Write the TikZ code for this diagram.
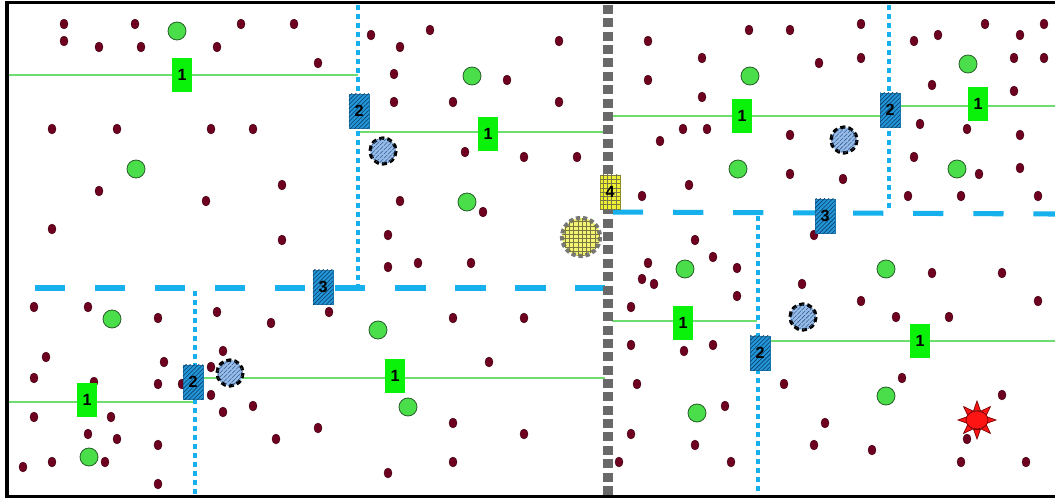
\documentclass[tikz,border=0pt]{standalone}
\usepackage{fontspec}
\setsansfont{Liberation Sans}
\usetikzlibrary{patterns}
\definecolor{dotred}{RGB}{110,0,32}
\definecolor{dotedge}{RGB}{60,0,15}
\definecolor{cellgreen}{RGB}{110,220,110}
\definecolor{boxgreen}{RGB}{10,242,10}
\definecolor{nodegreen}{RGB}{75,222,75}
\definecolor{nodeedge}{RGB}{40,95,40}
\definecolor{linkblue}{RGB}{22,176,236}
\definecolor{boxblue}{RGB}{35,150,215}
\definecolor{hatchblue}{RGB}{10,60,105}
\definecolor{paleblue}{RGB}{150,190,235}
\definecolor{palehatch}{RGB}{60,90,140}
\definecolor{gwyellow}{RGB}{240,240,50}
\definecolor{gwgrid}{RGB}{120,120,70}
\definecolor{gwedge}{RGB}{145,145,40}
\definecolor{railgray}{RGB}{105,105,105}
\definecolor{sunred}{RGB}{255,20,20}
\definecolor{sunedge}{RGB}{120,0,0}

\begin{document}
\begin{tikzpicture}[
    x=0.025cm, y=-0.025cm,
    seed/.style={fill=dotred, draw=dotedge, line width=0.3pt},
    cellline/.style={draw=cellgreen, line width=1pt},
    trunk/.style={draw=linkblue, line width=3.6pt, dash pattern=on 21.5pt off 21.2pt},
    branch/.style={draw=linkblue, line width=2.2pt, dash pattern=on 3.5pt off 2.9pt},
    rail/.style={draw=railgray, line width=7pt, dash pattern=on 6.4pt off 3.1pt},
    headnode/.style={fill=nodegreen, draw=nodeedge, line width=0.6pt},
    relay/.style={fill=paleblue, postaction={pattern=north east lines, pattern color=palehatch},
        draw=black, line width=2.3pt, dash pattern=on 3.6pt off 2.2pt},
    hub/.style={fill=gwyellow!70!white, postaction={pattern=grid, pattern color=gwgrid},
        draw=railgray!90, line width=3pt, dash pattern=on 3pt off 2pt},
    tagbox/.style={minimum width=0.5cm, minimum height=0.85cm, inner sep=0pt,
        font=\sffamily\bfseries\fontsize{11.5}{11.5}\selectfont},
    levelone/.style={tagbox, fill=boxgreen},
    leveltwo/.style={tagbox, fill=boxblue, draw=boxblue!80!black, line width=0.4pt,
        postaction={pattern=north east lines, pattern color=hatchblue}},
    levelfour/.style={tagbox, fill=gwyellow, draw=gwedge, line width=0.6pt,
        postaction={pattern=grid, pattern color=gwgrid}},
    sunray/.style={fill=sunred, draw=sunedge, line width=0.5pt}
]

\useasboundingbox (0,0) rectangle (1055,500);

% cluster borders (green)
\draw[cellline] (8,75) -- (358,75);
\draw[cellline] (360,132) -- (605,132);
\draw[cellline] (612,116) -- (880,116);
\draw[cellline] (900,106) -- (1055,106);
\draw[cellline] (8,402) -- (195,402);
\draw[cellline] (204,378) -- (605,378);
\draw[cellline] (612,321) -- (757,321);
\draw[cellline] (770,341) -- (1055,341);

% region borders (blue)
\draw[trunk] (35,288) -- (605,288);
\draw[trunk] (613,212) -- (1055,214);
\draw[branch] (358,5) -- (358,287);
\draw[branch] (195,291) -- (195,496);
\draw[branch] (889,5) -- (889,211);
\draw[branch] (758,216) -- (758,496);

% central divide
\draw[rail] (608,5) -- (608,496);

% frame
\draw[line width=2.8pt] (1060,2.5) -- (7,2.5) -- (7,496.5) -- (1060,496.5);

% sensor nodes
\foreach \x/\y in {64/24, 64/41, 99/47, 135/24, 141/47, 217/47, 241/24, 294/24, 318/63,
    52/129, 117/129, 211/129, 253/129, 99/191, 206/201, 282/185, 52/229, 282/240,
    371/35, 400/47, 430/30, 559/41, 394/74, 507/80, 394/102, 453/102, 559/102,
    465/152, 524/157, 577/157, 400/201, 483/212, 388/235, 388/267, 418/263, 471/263,
    453/318, 524/318, 489/362, 453/423, 524/434, 453/462, 388/473,
    648/41, 749/30, 790/30, 861/24, 702/58, 861/58, 648/80, 819/63, 702/97,
    683/129, 707/129, 660/141, 790/135, 790/174, 843/179, 689/185, 642/196,
    695/240, 814/235,
    914/41, 938/35, 985/24, 1020/35, 1044/24, 1014/58, 1044/58, 932/85, 1014/91,
    920/124, 967/129, 1020/135, 914/157, 979/174, 1020/168, 908/196, 961/196, 1038/196,
    34/307, 88/307, 158/318, 217/312, 271/323, 329/312, 46/357, 164/362, 223/351,
    34/378, 94/382, 158/384, 182/384, 211/367, 211/395, 223/412, 253/406,
    34/417, 111/417, 88/434, 117/439, 158/445, 276/439, 318/428,
    23/467, 52/462, 105/462, 158/484,
    648/263, 713/257, 737/268, 642/279, 654/284, 737/296, 631/307, 802/284,
    861/301, 932/273, 1002/273, 1038/301, 896/317, 949/317, 631/345, 684/351,
    713/345, 637/384, 784/384, 902/378, 1002/395, 725/406, 631/434, 695/445,
    825/423, 814/445, 872/450, 967/439, 619/462, 731/462, 961/462, 1026/462}
  \draw[seed] (\x,\y) ellipse (4 and 5);

% cluster heads
\foreach \x/\y in {177/31, 136/169, 472/76, 467/202, 750/76, 738/169, 968/64, 957/169,
    112/319, 89/457, 378/330, 408/407, 685/269, 886/269, 697/413, 886/396}
  \draw[headnode] (\x,\y) circle (9);

% relays and gateway
\foreach \x/\y in {383/151, 844/140, 230/373, 803/317}
  \draw[relay] (\x,\y) circle (13);
\draw[hub] (581,237) circle (19);

% level labels
\node[levelone] (a1) at (182,75) {1};
\node[levelone] (a2) at (488,134) {1};
\node[levelone] (a3) at (742,116) {1};
\node[levelone] (a4) at (978,104) {1};
\node[levelone] (a5) at (87,400) {1};
\node[levelone] (a6) at (395,376) {1};
\node[levelone] (a7) at (683,323) {1};
\node[levelone] (a8) at (920,341) {1};
\node[leveltwo] (b1) at (359,111) {2};
\node[leveltwo] (b2) at (890,110) {2};
\node[leveltwo] (b3) at (193,382) {2};
\node[leveltwo] (b4) at (760,353) {2};
\node[leveltwo] (c1) at (323,287) {3};
\node[leveltwo] (c2) at (825,216) {3};
\node[levelfour] (d1) at (610,192) {4};

% sink
\begin{scope}[shift={(977,420)}]
  \foreach \a in {0,45,...,315}
    \draw[sunray] (\a-20:10) -- (\a:19) -- (\a+20:10) -- cycle;
  \draw[sunray] (0,0) ellipse (11 and 9);
\end{scope}

\end{tikzpicture}
\end{document}
